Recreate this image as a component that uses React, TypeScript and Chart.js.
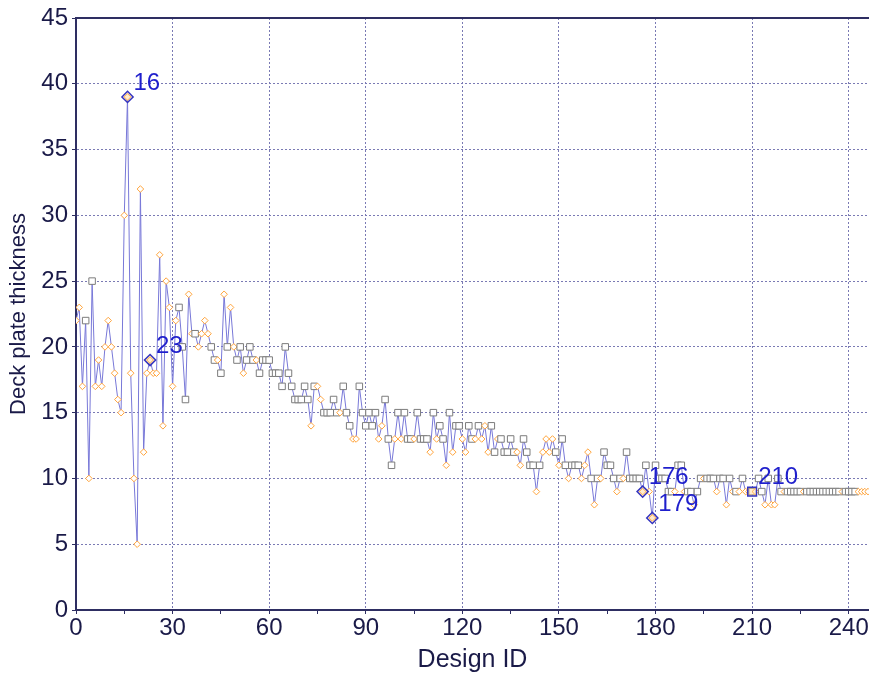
import { useEffect, useRef } from 'react';
import { Chart, registerables } from 'chart.js';

Chart.register(...registerables);

// Deck plate thickness per design ID (ID = index)
const thickness: number[] = [
  22, 23, 17, 22, 10, 25, 17, 19, 17, 20,
  22, 20, 18, 16, 15, 30, 39, 18, 10, 5,
  32, 12, 18, 19, 18, 18, 27, 14, 25, 23,
  17, 22, 23, 20, 16, 24, 21, 21, 20, 21,
  22, 21, 20, 19, 19, 18, 24, 20, 23, 20,
  19, 20, 18, 19, 20, 19, 19, 18, 19, 19,
  19, 18, 18, 18, 17, 20, 18, 17, 16, 16,
  16, 17, 16, 14, 17, 17, 16, 15, 15, 15,
  16, 15, 15, 17, 15, 14, 13, 13, 17, 15,
  14, 15, 14, 15, 13, 14, 16, 13, 11, 13,
  15, 13, 15, 13, 13, 13, 15, 13, 13, 13,
  12, 15, 13, 14, 13, 11, 15, 12, 14, 14,
  13, 12, 14, 13, 13, 14, 13, 14, 12, 14,
  12, 13, 13, 12, 12, 13, 12, 12, 11, 13,
  12, 11, 11, 9, 11, 12, 13, 12, 13, 12,
  11, 13, 11, 10, 11, 11, 11, 10, 11, 12,
  10, 8, 10, 10, 12, 11, 11, 10, 9, 10,
  10, 12, 10, 10, 10, 10, 9, 11, 9, 7,
  11, 10, 10, 10, 9, 9, 9, 11, 11, 9,
  9, 9, 8, 9, 10, 10, 10, 10, 10, 9,
  10, 10, 8, 10, 9, 9, 9, 10, 9, 9,
  9, 9, 10, 9, 8, 10, 8, 8, 10, 9,
  9, 9, 9, 9, 9, 9, 9, 9, 9, 9,
  9, 9, 9, 9, 9, 9, 9, 9, 9, 9,
  9, 9, 9, 9, 9, 9, 9,
];

// Marker shape per design: D = diamond (orange), S = square (grey)
const markerShapes: string[] = (
  'DDDSDSDDDD' + 'DDDDDDDDDD' + 'DDDDDDDDDD' + 'DDSSSDDSDD' + 'DDSSDSDSDD' +
  'SSDSSSDSSS' + 'SSSSSSSSSS' + 'SSSDSDDSSS' + 'SSDSSSDDSS' + 'SSSSDDSSSD' +
  'SDSSSDSSSS' + 'DSDSSDSDSS' + 'DDSSDSDDDS' + 'SDSSSSSDDS' + 'SSSDSDDDDS' +
  'DSSDSSSDDD' + 'SDSDSSSSDS' + 'DSSSSSDSDD' + 'SSSSSSDSSD' + 'SSDSSDSSSD' +
  'SSDSDSDSDD' + 'SDSSDSDDSS' + 'DSSSSSDSSS' + 'SSSSSSSSDS' + 'SSSDDDD'
).split('');

const highlightedIds: number[] = [16, 23, 176, 179, 210];

const xMax = 246.3;
const yMax = 45;

const FONT = 'Liberation Sans, Arial, sans-serif';
const TEXT = '#1a1a48';
const AXIS = '#2e2e62';
const GRID = '#7a7ab4';

export default function App() {
  const ref = useRef<HTMLCanvasElement>(null);

  useEffect(() => {
    if (!ref.current) return;
    const points = thickness.map((v, i) => ({ x: i, y: v }));
    const hlPoints = highlightedIds.map((id) => ({ x: id, y: thickness[id] }));

    const labelPlugin = {
      id: 'pointLabels',
      afterDatasetsDraw(chart: any) {
        const { ctx, scales } = chart;
        ctx.save();
        ctx.font = `24px ${FONT}`;
        ctx.fillStyle = '#1f1fcc';
        ctx.textAlign = 'left';
        ctx.textBaseline = 'middle';
        highlightedIds.forEach((id) => {
          const px = scales.x.getPixelForValue(id);
          const py = scales.y.getPixelForValue(thickness[id]);
          ctx.fillText(String(id), px + 6, py - 14);
        });
        ctx.restore();
      },
    };

    const framePlugin = {
      id: 'topFrame',
      afterDraw(chart: any) {
        const { ctx, chartArea } = chart;
        ctx.save();
        ctx.strokeStyle = AXIS;
        ctx.lineWidth = 2;
        ctx.beginPath();
        ctx.moveTo(chartArea.left, chartArea.top);
        ctx.lineTo(chartArea.right, chartArea.top);
        ctx.stroke();
        ctx.restore();
      },
    };

    const chart = new Chart(ref.current, {
      type: 'line',
      data: {
        datasets: [
          {
            data: points,
            borderColor: '#7878d8',
            borderWidth: 1,
            tension: 0,
            pointStyle: (c: any) => (markerShapes[c.dataIndex] === 'S' ? 'rect' : 'rectRot'),
            pointRadius: (c: any) => (markerShapes[c.dataIndex] === 'S' ? 4.6 : 3.3),
            pointBorderColor: (c: any) => (markerShapes[c.dataIndex] === 'S' ? '#7c7c7c' : '#ffa43c'),
            pointBackgroundColor: '#ffffff',
            pointBorderWidth: 1,
            order: 2,
          },
          {
            data: hlPoints,
            showLine: false,
            pointStyle: (c: any) => (markerShapes[highlightedIds[c.dataIndex]] === 'S' ? 'rect' : 'rectRot'),
            pointRadius: (c: any) => (markerShapes[highlightedIds[c.dataIndex]] === 'S' ? 6.2 : 5.6),
            pointBorderColor: '#3434c0',
            pointBackgroundColor: 'rgba(255,200,120,0.35)',
            pointBorderWidth: 1.5,
            order: 1,
          },
        ] as any,
      },
      options: {
        animation: false,
        responsive: false,
        devicePixelRatio: 1,
        layout: { autoPadding: false, padding: { top: 18, right: 0, left: 0, bottom: 0 } },
        plugins: {
          legend: { display: false },
          tooltip: { enabled: false },
          title: { display: false },
        },
        scales: {
          x: {
            type: 'linear',
            min: 0,
            max: xMax,
            afterFit: (s: any) => {
              s.height = 63;
              s.paddingRight = 0;
              s.paddingLeft = 0;
            },
            ticks: {
              stepSize: 15,
              autoSkip: false,
              maxRotation: 0,
              includeBounds: false,
              padding: 0,
              color: TEXT,
              font: { family: FONT, size: 24 },
              callback: (v: any) => (Number(v) % 30 === 0 ? String(v) : ''),
            },
            grid: {
              color: (c: any) => (c.tick && c.tick.value % 30 === 0 ? GRID : 'rgba(0,0,0,0)'),
              lineWidth: 1,
              tickColor: AXIS,
              tickLength: 4,
            },
            border: { color: AXIS, width: 2, dash: [2, 2] },
            title: {
              display: true,
              text: 'Design ID',
              color: TEXT,
              font: { family: FONT, size: 25 },
              padding: { top: 0, bottom: -2 },
            },
          },
          y: {
            type: 'linear',
            min: 0,
            max: yMax,
            afterFit: (s: any) => {
              s.width = 76;
              s.paddingTop = 0;
              s.paddingBottom = 0;
            },
            ticks: {
              stepSize: 5,
              padding: 4,
              color: TEXT,
              font: { family: FONT, size: 24 },
            },
            grid: {
              color: GRID,
              lineWidth: 1,
              tickColor: AXIS,
              tickLength: 4,
            },
            border: { color: AXIS, width: 2, dash: [2, 2] },
            title: {
              display: true,
              text: 'Deck plate thickness',
              color: TEXT,
              font: { family: FONT, size: 22 },
              padding: { top: 6, bottom: 0 },
            },
          },
        },
      } as any,
      plugins: [labelPlugin, framePlugin],
    });

    return () => chart.destroy();
  }, []);

  return (
    <div style={{ position: 'absolute', left: 0, top: 0, width: 869, height: 673, background: '#ffffff' }}>
      <canvas ref={ref} width={869} height={673} style={{ display: 'block' }} />
    </div>
  );
}
